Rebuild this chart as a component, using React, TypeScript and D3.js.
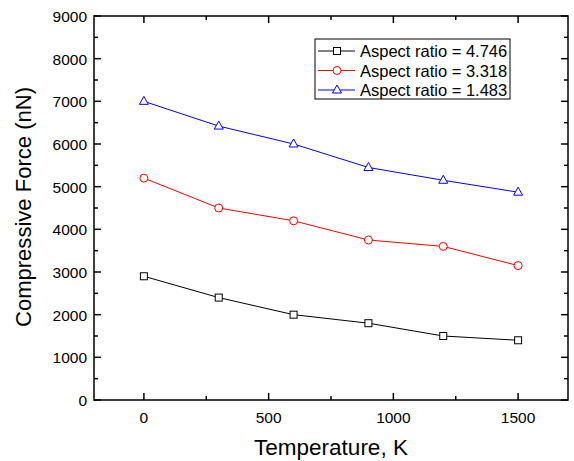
import React, { useEffect, useRef } from "react";
import * as d3 from "d3";

const temps = [0, 300, 600, 900, 1200, 1500];
const seriesNames = ["Aspect ratio = 4.746", "Aspect ratio = 3.318", "Aspect ratio = 1.483"];
const force4746 = [2900, 2400, 2000, 1800, 1500, 1400];
const force3318 = [5200, 4500, 4200, 3750, 3600, 3150];
const force1483 = [7000, 6420, 6000, 5450, 5150, 4870];
const xTicks = [0, 500, 1000, 1500];
const yTicks = [0, 1000, 2000, 3000, 4000, 5000, 6000, 7000, 8000, 9000];

const App = () => {
  const svgRef = useRef<SVGSVGElement>(null);

  useEffect(() => {
    const svg = d3.select(svgRef.current);
    svg.selectAll("*").remove();

    const width = 574;
    const height = 461;
    const margin = { top: 16, right: 6, bottom: 61, left: 94 };
    const font = "Arial, 'Liberation Sans', sans-serif";

    const x = d3.scaleLinear().domain([-200, 1700]).range([margin.left, width - margin.right]);
    const y = d3.scaleLinear().domain([0, 9000]).range([height - margin.bottom, margin.top]);

    const series = [
      { name: seriesNames[0], values: force4746, color: "#000000", marker: "square" },
      { name: seriesNames[1], values: force3318, color: "#ff0000", marker: "circle" },
      { name: seriesNames[2], values: force1483, color: "#0000ff", marker: "triangle" },
    ];

    const g = svg.append("g");

    // ticks inside, on all four sides
    const xMinor = d3.range(-250, 1750, 250).filter((v) => v > -200 && v < 1700 && v % 500 !== 0);
    const yMinor = d3.range(500, 9000, 1000);
    const x0 = margin.left, x1 = width - margin.right;
    const y0 = height - margin.bottom, y1 = margin.top;

    const tick = (xa, ya, xb, yb) =>
      g.append("line").attr("x1", xa).attr("y1", ya).attr("x2", xb).attr("y2", yb)
        .attr("stroke", "#000").attr("stroke-width", 1.5);

    xTicks.forEach((v) => { tick(x(v), y0, x(v), y0 - 7); tick(x(v), y1, x(v), y1 + 7); });
    xMinor.forEach((v) => { tick(x(v), y0, x(v), y0 - 4); tick(x(v), y1, x(v), y1 + 4); });
    yTicks.forEach((v) => { tick(x0, y(v), x0 + 7, y(v)); tick(x1, y(v), x1 - 7, y(v)); });
    yMinor.forEach((v) => { tick(x0, y(v), x0 + 4, y(v)); tick(x1, y(v), x1 - 4, y(v)); });

    g.append("rect")
      .attr("x", x0).attr("y", y1).attr("width", x1 - x0).attr("height", y0 - y1)
      .attr("fill", "none").attr("stroke", "#000").attr("stroke-width", 1.5);

    // tick labels
    g.selectAll(".xl").data(xTicks).enter().append("text")
      .attr("x", (d) => x(d)).attr("y", y0 + 23).attr("text-anchor", "middle")
      .style("font-family", font).style("font-size", "15.5px").text((d) => d);
    g.selectAll(".yl").data(yTicks).enter().append("text")
      .attr("x", x0 - 7).attr("y", (d) => y(d) + 6).attr("text-anchor", "end")
      .style("font-family", font).style("font-size", "15.5px").text((d) => d);

    // axis titles
    g.append("text").attr("x", (x0 + x1) / 2).attr("y", 455).attr("text-anchor", "middle")
      .style("font-family", font).style("font-size", "22.5px").text("Temperature, K");
    g.append("text").attr("transform", "translate(31,207) rotate(-90)")
      .attr("text-anchor", "middle")
      .attr("textLength", 240).attr("lengthAdjust", "spacingAndGlyphs")
      .style("font-family", font).style("font-size", "22px").text("Compressive Force (nN)");

    const drawMarker = (sel, marker, cx, cy, color) => {
      if (marker === "square") {
        sel.append("rect").attr("x", cx - 3.5).attr("y", cy - 3.5).attr("width", 7).attr("height", 7)
          .attr("fill", "#fff").attr("stroke", color).attr("stroke-width", 1);
      } else if (marker === "circle") {
        sel.append("circle").attr("cx", cx).attr("cy", cy).attr("r", 4)
          .attr("fill", "#fff").attr("stroke", color).attr("stroke-width", 1);
      } else {
        sel.append("path").attr("d", `M${cx},${cy - 5}L${cx + 4.5},${cy + 3}L${cx - 4.5},${cy + 3}Z`)
          .attr("fill", "#fff").attr("stroke", color).attr("stroke-width", 1);
      }
    };

    const line = d3.line<number>().x((d, i) => x(temps[i])).y((d) => y(d));

    series.forEach((s) => {
      g.append("path").datum(s.values).attr("fill", "none")
        .attr("stroke", s.color).attr("stroke-width", 1).attr("d", line);
      s.values.forEach((v, i) => drawMarker(g, s.marker, x(temps[i]), y(v), s.color));
    });

    // legend
    const lx = 315, ly = 39, lw = 195, lh = 60;
    g.append("rect").attr("x", lx).attr("y", ly).attr("width", lw).attr("height", lh)
      .attr("fill", "#fff").attr("stroke", "#000").attr("stroke-width", 1);
    series.forEach((s, i) => {
      const cy = ly + 12 + i * 19.5;
      g.append("line").attr("x1", lx + 3).attr("x2", lx + 40).attr("y1", cy).attr("y2", cy)
        .attr("stroke", s.color).attr("stroke-width", 1);
      drawMarker(g, s.marker, lx + 22, cy, s.color);
      g.append("text").attr("x", lx + 45).attr("y", cy + 6)
        .style("font-family", font).style("font-size", "16.5px").text(s.name);
    });
  }, []);

  return (
    <svg
      ref={svgRef}
      width={574}
      height={461}
      style={{ position: "absolute", top: 0, left: 0, display: "block" }}
    ></svg>
  );
};

export default App;
